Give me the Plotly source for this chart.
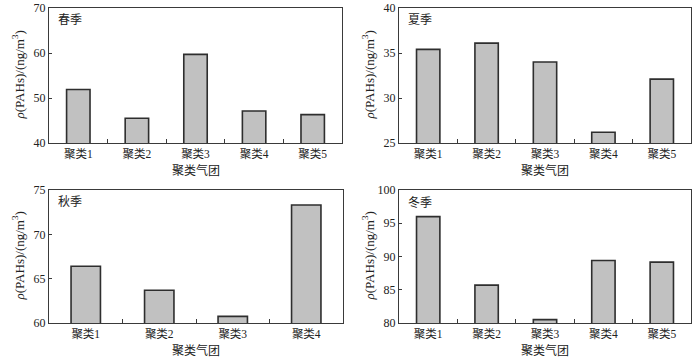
import plotly.graph_objects as go

categories5 = ["聚类1", "聚类2", "聚类3", "聚类4", "聚类5"]
categories4 = ["聚类1", "聚类2", "聚类3", "聚类4"]

spring = [51.9, 45.5, 59.7, 47.1, 46.3]
summer = [35.4, 36.1, 34.0, 26.2, 32.1]
autumn = [66.4, 63.7, 60.75, 73.3]
winter = [96.0, 85.7, 80.5, 89.4, 89.15]

panels = [
    ("春季", categories5, spring, [40, 70], [40, 50, 60, 70]),
    ("夏季", categories5, summer, [25, 40], [25, 30, 35, 40]),
    ("秋季", categories4, autumn, [60, 75], [60, 65, 70, 75]),
    ("冬季", categories5, winter, [80, 100], [80, 85, 90, 95, 100]),
]

W, H = 700, 357
# pixel boxes: (x0, x1, y0_top, y1_bottom)
boxes = [
    (49, 342, 8, 143),
    (399, 691, 8, 143),
    (49, 343, 190, 323),
    (399, 691, 190, 323),
]

FONT = "Liberation Serif, Times New Roman, Noto Sans CJK SC, serif"
LINE = "#3a3a3a"

fig = go.Figure()
layout = dict(
    width=W, height=H, margin=dict(l=0, r=0, t=0, b=0, pad=0),
    paper_bgcolor="white", plot_bgcolor="white",
    showlegend=False, font=dict(family=FONT, size=11, color="#222"),
    bargap=0.6,
)
annotations = []
for i, ((label, cats, vals, rng, ticks), (x0, x1, y0, y1)) in enumerate(zip(panels, boxes)):
    n = "" if i == 0 else str(i + 1)
    fig.add_trace(go.Bar(
        x=cats, y=vals, xaxis="x" + n, yaxis="y" + n,
        marker=dict(color="#c1c1c1", line=dict(color="#2e2e2e", width=1.6)),
        width=0.4,
    ))
    xd = [x0 / W, x1 / W]
    yd = [1 - y1 / H, 1 - y0 / H]
    layout["xaxis" + n] = dict(
        domain=xd, anchor="y" + n, showline=True, mirror=True, linecolor=LINE, linewidth=1,
        ticks="inside", tickson="boundaries", ticklen=4, tickcolor=LINE,
        tickfont=dict(size=11.5, family=FONT), showgrid=False, automargin=False,
    )
    layout["yaxis" + n] = dict(
        domain=yd, anchor="x" + n, range=rng, tickvals=ticks, showline=True, mirror=True,
        linecolor=LINE, linewidth=1, ticks="inside", ticklen=3, tickcolor=LINE,
        tickfont=dict(size=12, family=FONT), showgrid=False, zeroline=False, automargin=False,
    )
    annotations.append(dict(
        text=label, xref="paper", yref="paper", x=(x0 + 7) / W, y=1 - (y0 + 12) / H,
        xanchor="left", yanchor="middle", showarrow=False, font=dict(size=12, family=FONT),
    ))
    annotations.append(dict(
        text="聚类气团", xref="paper", yref="paper", x=(x0 + x1) / 2 / W, y=1 - (y1 + 27) / H,
        xanchor="center", yanchor="middle", showarrow=False, font=dict(size=12, family=FONT),
    ))
    annotations.append(dict(
        text="<i>ρ</i>(PAHs)/(ng/m<sup>3</sup>)", xref="paper", yref="paper",
        x=(x0 - 31) / W, y=1 - (y0 + y1) / 2 / H, textangle=-90,
        xanchor="center", yanchor="middle", showarrow=False, font=dict(size=13, family=FONT),
    ))
layout["annotations"] = annotations
fig.update_layout(**layout)
fig.write_html("out.html", config={"displayModeBar": False},
               post_script="document.body.style.margin='0';")
